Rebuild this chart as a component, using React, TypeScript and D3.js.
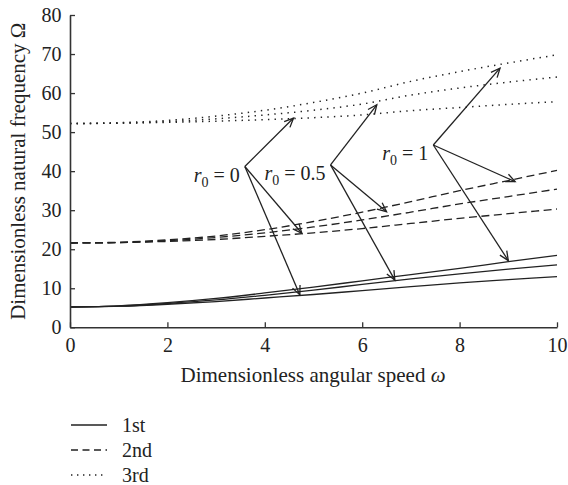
import { useLayoutEffect, useRef } from "react";
import * as d3 from "d3";

// dimensionless angular speed
const omega = [0, 1, 2, 3, 4, 5, 6, 7, 8, 9, 10];

// 1st mode (solid), r0 = 0, 0.5, 1
const firstR0 = [5.2, 5.4, 5.9, 6.6, 7.5, 8.4, 9.4, 10.4, 11.4, 12.2, 13.0];
const firstR05 = [5.2, 5.4, 6.1, 7.0, 8.2, 9.5, 11.0, 12.4, 13.7, 14.9, 16.0];
const firstR1 = [5.2, 5.5, 6.3, 7.4, 8.8, 10.3, 11.9, 13.5, 15.1, 16.8, 18.4];

// 2nd mode (dashed)
const secondR0 = [21.6, 21.7, 22.0, 22.5, 23.3, 24.2, 25.3, 26.6, 27.9, 29.1, 30.3];
const secondR05 = [21.6, 21.7, 22.2, 23.0, 24.2, 25.7, 27.5, 29.5, 31.6, 33.5, 35.4];
const secondR1 = [21.6, 21.8, 22.4, 23.4, 25.0, 27.1, 29.5, 32.2, 35.0, 37.6, 40.2];

// 3rd mode (dotted)
const thirdR0 = [52.2, 52.3, 52.5, 52.8, 53.2, 53.7, 54.4, 55.5, 56.3, 57.1, 57.8];
const thirdR05 = [52.2, 52.3, 52.7, 53.4, 54.4, 55.6, 57.2, 59.5, 61.3, 62.8, 64.1];
const thirdR1 = [52.2, 52.4, 53.0, 54.1, 55.6, 57.6, 60.0, 63.0, 65.5, 67.7, 69.8];

const xTicks = [0, 2, 4, 6, 8, 10];
const yTicks = [0, 10, 20, 30, 40, 50, 60, 70, 80];

// annotations: label, origin point and arrow targets (data units)
const annoLabels = ["0", "0.5", "1"];
const annoOrigins = [
  [3.59, 41.2],
  [5.35, 41.6],
  [7.46, 46.7],
];
const annoTargets = [
  [[4.59, 53.6], [4.76, 24.1], [4.72, 8.3]],
  [[6.3, 57.0], [6.5, 29.6], [6.67, 12.1]],
  [[8.83, 66.4], [9.14, 37.3], [9.0, 17.1]],
];

const legendNames = ["1st", "2nd", "3rd"];
const dashes = ["none", "8,4.5", "1.4,5.2"];

const W = 568;
const H = 485;
const FONT = "'Liberation Serif', 'Times New Roman', serif";
const INK = "#222";

const App = () => {
  const svgRef = useRef<SVGSVGElement>(null);

  useLayoutEffect(() => {
    const svg = d3.select(svgRef.current);
    svg.selectAll("*").remove();

    const x = d3.scaleLinear().domain([0, 10]).range([70, 557]);
    const y = d3.scaleLinear().domain([0, 80]).range([327.3, 15]);

    const series = [
      { vals: firstR0, mode: 0 },
      { vals: firstR05, mode: 0 },
      { vals: firstR1, mode: 0 },
      { vals: secondR0, mode: 1 },
      { vals: secondR05, mode: 1 },
      { vals: secondR1, mode: 1 },
      { vals: thirdR0, mode: 2 },
      { vals: thirdR05, mode: 2 },
      { vals: thirdR1, mode: 2 },
    ];

    const line = d3
      .line<number>()
      .x((_, i) => x(omega[i]))
      .y((d) => y(d))
      .curve(d3.curveMonotoneX);

    svg
      .append("g")
      .selectAll("path")
      .data(series)
      .join("path")
      .attr("d", (d) => line(d.vals))
      .attr("fill", "none")
      .attr("stroke", INK)
      .attr("stroke-width", (d) => (d.mode === 2 ? 1.5 : 1.3))
      .attr("stroke-dasharray", (d) => dashes[d.mode]);

    // axes
    const xAxis = svg
      .append("g")
      .attr("transform", `translate(0,${y(0)})`)
      .call(
        d3
          .axisBottom(x)
          .tickValues(xTicks)
          .tickSizeInner(-5)
          .tickSizeOuter(0)
          .tickPadding(10.5)
      );
    const yAxis = svg
      .append("g")
      .attr("transform", `translate(${x(0)},0)`)
      .call(
        d3
          .axisLeft(y)
          .tickValues(yTicks)
          .tickSizeInner(-5)
          .tickSizeOuter(0)
          .tickPadding(8.5)
      );
    [xAxis, yAxis].forEach((g) => {
      g.select(".domain").attr("stroke", "#333").attr("stroke-width", 1.6);
      g.selectAll(".tick line").attr("stroke", "#333").attr("stroke-width", 1.3);
      g.selectAll("text")
        .attr("font-family", FONT)
        .attr("font-size", 20)
        .attr("fill", INK);
    });
    xAxis.selectAll(".tick line").attr("y1", 0).attr("y2", -5);
    yAxis.selectAll(".tick line").attr("x1", 0).attr("x2", 5);

    // axis titles
    svg
      .append("text")
      .attr("x", 313)
      .attr("y", 382)
      .attr("text-anchor", "middle")
      .attr("font-family", FONT)
      .attr("font-size", 21)
      .attr("fill", INK)
      .text("Dimensionless angular speed ")
      .append("tspan")
      .attr("font-style", "italic")
      .text("ω");

    svg
      .append("text")
      .attr("transform", `translate(24.5,${(y(0) + y(80)) / 2}) rotate(-90)`)
      .attr("text-anchor", "middle")
      .attr("font-family", FONT)
      .attr("font-size", 21)
      .attr("fill", INK)
      .text("Dimensionless natural frequency Ω");

    // annotations with arrows
    const ann = svg.append("g");
    annoLabels.forEach((lab, k) => {
      const ox = x(annoOrigins[k][0]);
      const oy = y(annoOrigins[k][1]);
      annoTargets[k].forEach(([tw, tv]) => {
        const tx = x(tw);
        const ty = y(tv);
        ann
          .append("line")
          .attr("x1", ox)
          .attr("y1", oy)
          .attr("x2", tx)
          .attr("y2", ty)
          .attr("stroke", INK)
          .attr("stroke-width", 1.3);
        const a = Math.atan2(ty - oy, tx - ox);
        const len = 10;
        const spread = 0.42;
        const head = d3.path();
        head.moveTo(tx - len * Math.cos(a - spread), ty - len * Math.sin(a - spread));
        head.lineTo(tx, ty);
        head.lineTo(tx - len * Math.cos(a + spread), ty - len * Math.sin(a + spread));
        ann
          .append("path")
          .attr("d", head.toString())
          .attr("fill", "none")
          .attr("stroke", INK)
          .attr("stroke-width", 1.3);
      });
      const t = ann
        .append("text")
        .attr("x", ox - 5)
        .attr("y", oy + 15.5)
        .attr("text-anchor", "end")
        .attr("font-family", FONT)
        .attr("font-size", 20)
        .attr("fill", INK);
      t.append("tspan").attr("font-style", "italic").text("r");
      t.append("tspan").attr("dy", 5).attr("font-size", 14).text("0");
      t.append("tspan").attr("dy", -5).text(` = ${lab}`);
    });

    // legend
    const leg = svg
      .append("g")
      .selectAll("g")
      .data(legendNames)
      .join("g")
      .attr("transform", (_, i) => `translate(71,${425 + i * 25})`);
    leg
      .append("line")
      .attr("x1", 0)
      .attr("x2", 36)
      .attr("stroke", INK)
      .attr("stroke-width", (_, i) => (i === 2 ? 1.5 : 1.3))
      .attr("stroke-dasharray", (_, i) => (i === 1 ? "7,4.5" : i === 2 ? "1.4,4.6" : "none"));
    leg
      .append("text")
      .attr("x", 51)
      .attr("y", 6.5)
      .attr("font-family", FONT)
      .attr("font-size", 20)
      .attr("fill", INK)
      .text((d) => d);

    return () => {
      svg.selectAll("*").remove();
    };
  }, []);

  return (
    <svg
      ref={svgRef}
      width={W}
      height={H}
      style={{ position: "absolute", left: 0, top: 0, background: "#fff" }}
    ></svg>
  );
};

export default App;
